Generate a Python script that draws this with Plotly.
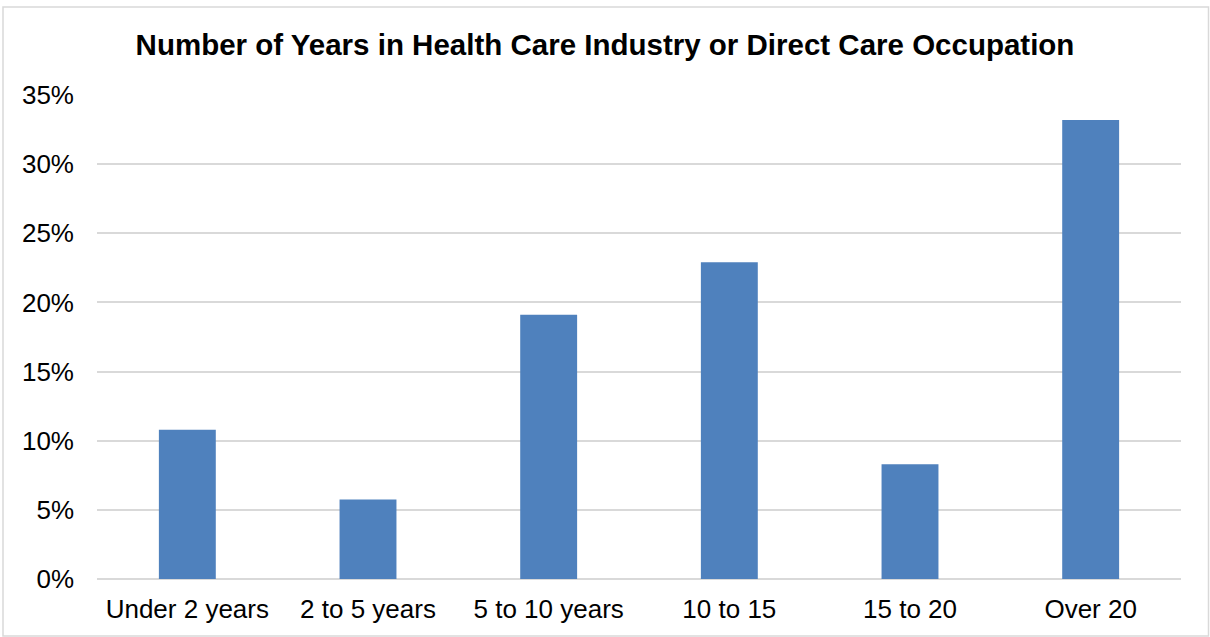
import plotly.graph_objects as go

categories = ["Under 2 years", "2 to 5 years", "5 to 10 years", "10 to 15", "15 to 20", "Over 20"]
values = [10.8, 5.75, 19.1, 22.9, 8.3, 33.2]
y_ticks = [0, 5, 10, 15, 20, 25, 30, 35]
y_tick_labels = [f"{v}%" for v in y_ticks]

W, H = 1210, 637
L, R, T, B = 97, 29, 95, 58
pw, ph = W - L - R, H - T - B

fig = go.Figure(go.Bar(
    x=categories, y=values,
    marker=dict(color="#4f81bd", line=dict(width=0)),
    width=0.315,
))

def px_x(x):
    return (x - L) / pw

def px_y(y):
    return (H - B - y) / ph

fig.update_layout(
    width=W, height=H,
    margin=dict(l=L, r=R, t=T, b=B),
    paper_bgcolor="white", plot_bgcolor="white",
    font=dict(family="Liberation Sans, Arial, sans-serif", color="#000000", size=26),
    title=dict(text="<b>Number of Years in Health Care Industry or Direct Care Occupation</b>",
               x=0.5, xanchor="center", y=1 - 45 / H, yanchor="middle",
               font=dict(size=29.5, color="#000000")),
    showlegend=False,
    xaxis=dict(showgrid=False, showline=False, ticks="", tickfont=dict(size=26),
               ticklabelstandoff=12, fixedrange=True),
    yaxis=dict(range=[0, 35], tickvals=y_ticks, ticktext=y_tick_labels,
               showgrid=True, gridcolor="#d9d9d9", gridwidth=1.5,
               zeroline=True, zerolinecolor="#d9d9d9", zerolinewidth=1.5,
               showline=False, ticks="", tickfont=dict(size=26), ticklabelstandoff=22,
               fixedrange=True),
    shapes=[dict(type="rect", xref="paper", yref="paper",
                 x0=px_x(3), x1=px_x(1208.5), y0=px_y(636), y1=px_y(7),
                 line=dict(color="#d9d9d9", width=1.5), fillcolor="rgba(0,0,0,0)", layer="below")],
)

fig.write_html("out.html", config={"displayModeBar": False},
               post_script="document.body.style.margin='0';")
